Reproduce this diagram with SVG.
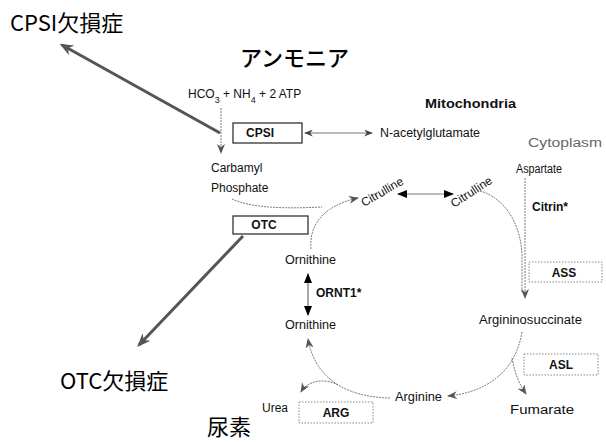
<svg xmlns="http://www.w3.org/2000/svg" width="606" height="442" viewBox="0 0 606 442">
<style>
.t{font-family:"Liberation Sans",Arial,sans-serif;font-size:12px;fill:#111}
.b{font-weight:bold}
.j{font-family:"Noto Sans CJK JP","Noto Sans CJK SC",sans-serif;fill:#000}
.c{fill:none;stroke:#7a7a7a;stroke-width:1;stroke-dasharray:2 1}
.sbox{fill:#fff;stroke:#333;stroke-width:1.3}
.dbox{fill:#fff;stroke:#888;stroke-width:1;stroke-dasharray:1.5 1.5}
.big{fill:none;stroke:#555;stroke-width:3}
</style>
<defs>
<marker id="ag" viewBox="0 0 10 8" refX="9" refY="4" markerWidth="10" markerHeight="8" markerUnits="userSpaceOnUse" orient="auto"><path d="M0,0 L10,4 L0,8 L3,4 z" fill="#555"/></marker>
<marker id="ab" viewBox="0 0 10 8" refX="9" refY="4" markerWidth="11" markerHeight="8" markerUnits="userSpaceOnUse" orient="auto-start-reverse"><path d="M0,0 L10,4 L0,8 z" fill="#000"/></marker>
<marker id="ad" viewBox="0 0 10 8" refX="9" refY="4" markerWidth="10" markerHeight="7" markerUnits="userSpaceOnUse" orient="auto-start-reverse"><path d="M0,0 L10,4 L0,8 L3,4 z" fill="#444"/></marker>
<marker id="abig" viewBox="0 0 10 8" refX="8" refY="4" markerWidth="14" markerHeight="11" markerUnits="userSpaceOnUse" orient="auto"><path d="M0,0 L10,4 L0,8 L3,4 z" fill="#555"/></marker>
</defs>

<g id="connectors">
<path class="big" d="M220,133 L62,45" marker-end="url(#abig)"/>
<path class="big" d="M243,236 L139,345" marker-end="url(#abig)"/>
<path class="c" d="M221,108 L221,153" marker-end="url(#ag)"/>
<path fill="none" stroke="#777" stroke-width="1" d="M305,133 L372,133" marker-start="url(#ad)" marker-end="url(#ad)"/>
<path class="c" d="M232,199 C255,210 300,208 322,207"/>
<path class="c" d="M311,249 C309,226 322,206 358,198" marker-end="url(#ag)"/>
<path fill="none" stroke="#777" stroke-width="1" d="M398,194 L453,194" marker-start="url(#ab)" marker-end="url(#ab)"/>
<path class="c" d="M480,191 C505,198 522,225 522,258 L522,292"/>
<path class="c" d="M525,178 L525,298" marker-end="url(#ag)"/>
<path class="c" d="M522,332 C515,375 482,393 448,396" marker-end="url(#ag)"/>
<path class="c" d="M512,358 C515,375 520,385 526,394" marker-end="url(#ag)"/>
<path class="c" d="M390,398 C345,397 315,378 308,339" marker-end="url(#ag)"/>
<path class="c" d="M338,385 C325,378 308,380 301,392" marker-end="url(#ag)"/>
<path fill="none" stroke="#555" stroke-width="1" d="M308,274 L308,315" marker-start="url(#ab)" marker-end="url(#ab)"/>
</g>

<g id="cpsi-def"><text class="j" x="10" y="31" font-size="22">CPSI欠損症</text></g>
<g id="otc-def"><text class="j" x="60" y="389" font-size="22">OTC欠損症</text></g>
<g id="ammonia"><text class="j" x="240" y="66" font-size="22" font-weight="500">アンモニア</text></g>
<g id="urea-jp"><text class="j" x="207" y="435" font-size="22">尿素</text></g>

<g id="substrates"><text class="t" x="188" y="98" font-size="11">HCO<tspan dy="5" font-size="9">3</tspan><tspan dy="-5"> + NH</tspan><tspan dy="5" font-size="9">4</tspan><tspan dy="-5"> + 2 ATP</tspan></text></g>

<g id="cpsi"><rect class="sbox" x="233" y="123" width="69" height="20"/><text class="t b" x="260" y="137" font-size="11" text-anchor="middle">CPSI</text></g>
<g id="nag"><text class="t" x="380" y="137" font-size="12" textLength="100" lengthAdjust="spacingAndGlyphs">N-acetylglutamate</text></g>
<g id="mito"><text class="t b" x="425" y="108" font-size="13" textLength="91" lengthAdjust="spacingAndGlyphs">Mitochondria</text></g>
<g id="cyto"><text class="t" x="528" y="147" font-size="15" style="fill:#666" textLength="74" lengthAdjust="spacingAndGlyphs">Cytoplasm</text></g>
<g id="carbamyl"><text class="t" x="211" y="172" font-size="11.5">Carbamyl</text><text class="t" x="211" y="192" font-size="11.5">Phosphate</text></g>
<g id="otc"><rect class="sbox" x="233" y="216" width="75" height="18"/><text class="t b" x="264" y="229" font-size="11" text-anchor="middle">OTC</text></g>
<g id="citrulline1"><text class="t" x="0" y="0" transform="translate(364,207) rotate(-30)">Citrulline</text></g>
<g id="citrulline2"><text class="t" x="0" y="0" transform="translate(454,208) rotate(-33)">Citrulline</text></g>
<g id="aspartate"><text class="t" x="516" y="173" font-size="11.5" textLength="46" lengthAdjust="spacingAndGlyphs">Aspartate</text></g>
<g id="citrin"><text class="t b" x="532" y="211" font-size="11.5">Citrin*</text></g>
<g id="ass"><rect class="dbox" x="529" y="262" width="73" height="20"/><text class="t b" x="564" y="277" text-anchor="middle">ASS</text></g>
<g id="argsucc"><text class="t" x="479" y="324" font-size="12.5" textLength="103" lengthAdjust="spacingAndGlyphs">Argininosuccinate</text></g>
<g id="asl"><rect class="dbox" x="524" y="354" width="74" height="21"/><text class="t b" x="561" y="369" text-anchor="middle">ASL</text></g>
<g id="fumarate"><text class="t" x="510" y="414" font-size="12.5" textLength="64" lengthAdjust="spacingAndGlyphs">Fumarate</text></g>
<g id="arginine"><text class="t" x="395" y="401" font-size="12.5" textLength="47" lengthAdjust="spacingAndGlyphs">Arginine</text></g>
<g id="arg"><rect class="dbox" x="299" y="402" width="74" height="21"/><text class="t b" x="336" y="417" text-anchor="middle">ARG</text></g>
<g id="urea"><text class="t" x="262" y="412" font-size="12">Urea</text></g>
<g id="ornithine1"><text class="t" x="285" y="264" font-size="12.5" textLength="51" lengthAdjust="spacingAndGlyphs">Ornithine</text></g>
<g id="ornt1"><text class="t b" x="316" y="297" font-size="12.5">ORNT1*</text></g>
<g id="ornithine2"><text class="t" x="285" y="329" font-size="12.5" textLength="51" lengthAdjust="spacingAndGlyphs">Ornithine</text></g>
</svg>
